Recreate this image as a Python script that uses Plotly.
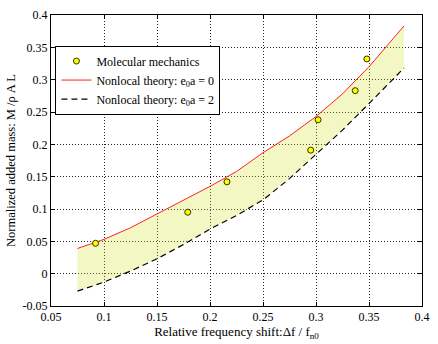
import plotly.graph_objects as go

# Molecular mechanics data
mm_x = [0.092, 0.179, 0.216, 0.295, 0.302, 0.337, 0.348]
mm_y = [0.047, 0.095, 0.142, 0.191, 0.238, 0.283, 0.332]

# Nonlocal theory curves
curve_x = [0.075, 0.1, 0.125, 0.15, 0.175, 0.2, 0.225, 0.25, 0.275, 0.3, 0.325, 0.35, 0.383]
red_y = [0.039, 0.053, 0.071, 0.092, 0.113, 0.135, 0.158, 0.187, 0.213, 0.243, 0.278, 0.320, 0.383]
black_y = [-0.027, -0.013, 0.004, 0.023, 0.045, 0.069, 0.090, 0.114, 0.147, 0.184, 0.222, 0.263, 0.318]

x_ticks = [0.05, 0.1, 0.15, 0.2, 0.25, 0.3, 0.35, 0.4]
x_labels = ["0.05", "0.1", "0.15", "0.2", "0.25", "0.3", "0.35", "0.4"]
y_ticks = [-0.05, 0, 0.05, 0.1, 0.15, 0.2, 0.25, 0.3, 0.35, 0.4]
y_labels = ["-0.05", "0", "0.05", "0.1", "0.15", "0.2", "0.25", "0.3", "0.35", "0.4"]

FONT = "Liberation Serif"

fig = go.Figure()
# translucent band so the dotted grid shows through, as in the reference
fig.add_trace(go.Scatter(x=curve_x, y=black_y, mode="lines", line=dict(width=0),
                         showlegend=False, hoverinfo="skip"))
fig.add_trace(go.Scatter(x=curve_x, y=red_y, mode="lines", line=dict(width=0),
                         fill="tonexty", fillcolor="rgba(210,225,40,0.28)",
                         showlegend=False, hoverinfo="skip"))
fig.add_trace(go.Scatter(x=curve_x, y=red_y, mode="lines", name="Nonlocal theory: e<sub>0</sub>a = 0",
                         legendrank=2, line=dict(color="#ff2020", width=1)))
fig.add_trace(go.Scatter(x=curve_x, y=black_y, mode="lines", name="Nonlocal theory: e<sub>0</sub>a = 2",
                         legendrank=3, line=dict(color="black", width=1.2, dash="6px,4px")))
fig.add_trace(go.Scatter(x=mm_x, y=mm_y, mode="markers", name="Molecular mechanics",
                         legendrank=1,
                         marker=dict(color="#ffff00", size=6, line=dict(color="#333300", width=1))))

axis_common = dict(showline=True, linecolor="black", linewidth=1, mirror="ticks",
                   ticks="inside", ticklen=4, tickcolor="black",
                   showgrid=True, gridcolor="#222222", griddash="1px,2px", gridwidth=1,
                   zeroline=False,
                   tickfont=dict(family=FONT, size=12, color="black"),
                   layer="above traces")

fig.update_layout(
    width=438, height=344,
    margin=dict(l=51, r=8, t=14, b=33),
    paper_bgcolor="white", plot_bgcolor="white",
    font=dict(family=FONT, size=12, color="black"),
    xaxis=dict(range=[0.05, 0.4], tickvals=x_ticks, ticktext=x_labels,
               title=dict(text="Relative frequency shift:Δf / f<sub>n0</sub>", standoff=2,
                          font=dict(size=13)),
               **axis_common),
    yaxis=dict(range=[-0.05, 0.4], tickvals=y_ticks, ticktext=y_labels,
               title=dict(text="Normalized added mass: M /ρ A L", standoff=4,
                          font=dict(size=12.5)),
               **axis_common),
    legend=dict(x=0.012, y=0.895, xanchor="left", yanchor="top",
                bgcolor="white", bordercolor="black", borderwidth=1,
                font=dict(size=12), tracegroupgap=0,
                traceorder="normal", itemwidth=30),
    showlegend=True,
)
fig.write_html("out.html")
